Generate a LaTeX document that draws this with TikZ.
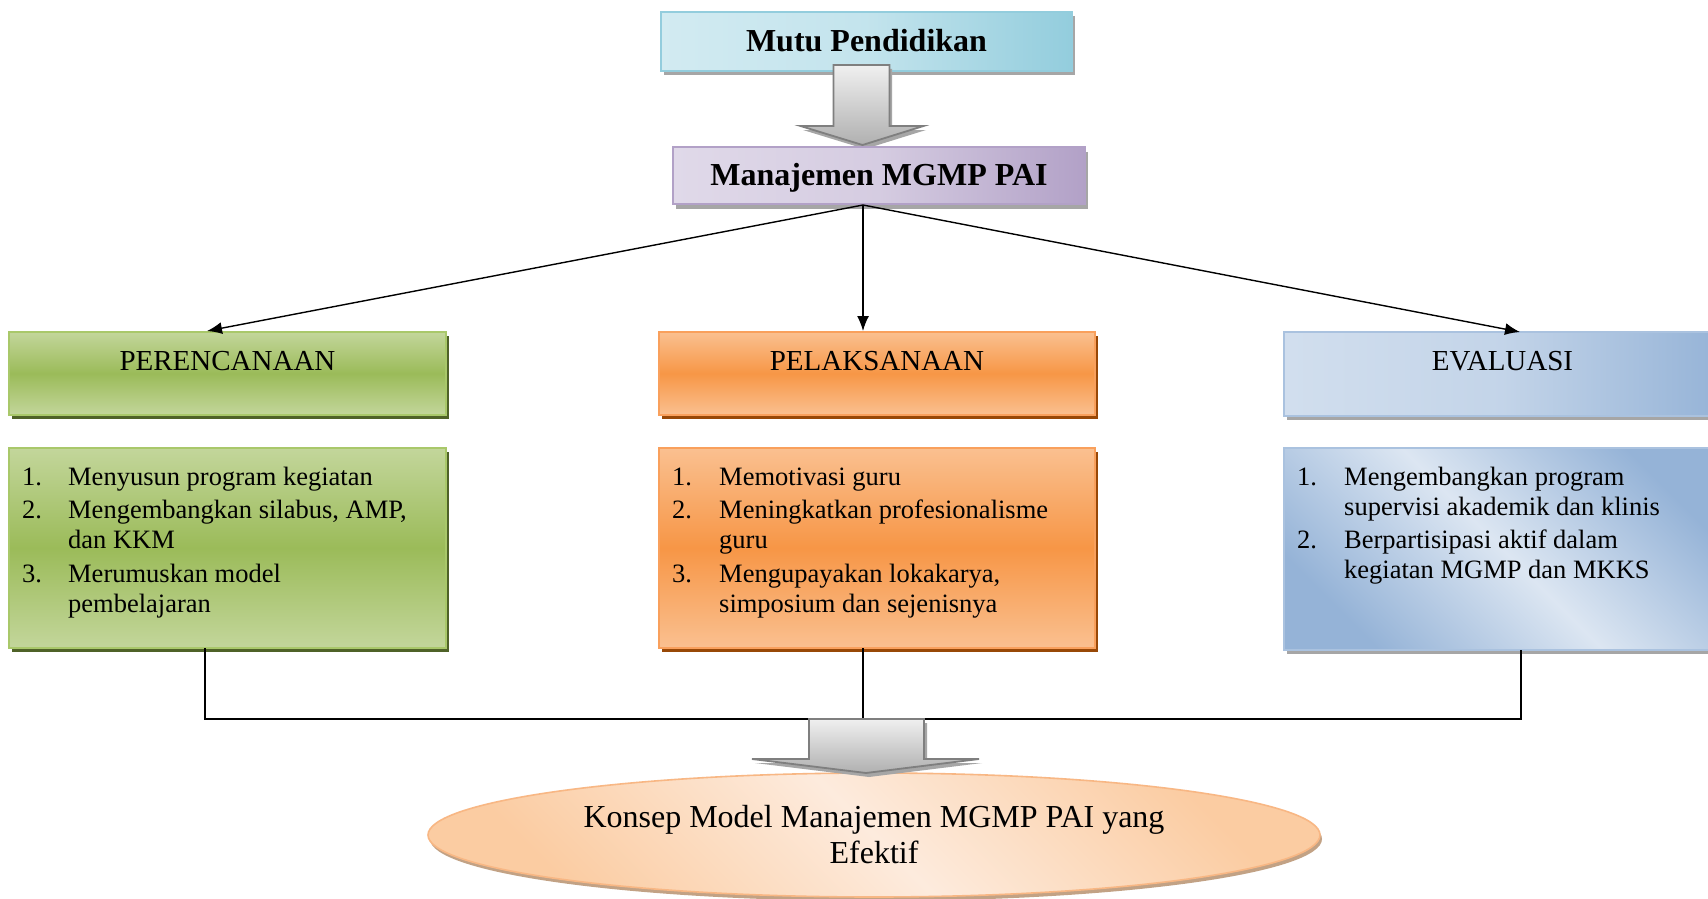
\documentclass[tikz,border=0pt]{standalone}
\usepackage{fontspec}
\setmainfont{Liberation Serif}
\usetikzlibrary{arrows.meta,shadows,calc,shapes.geometric}
\definecolor{cyanD}{HTML}{93CDDD}
\definecolor{cyanL}{HTML}{DDF0F5}
\definecolor{purpD}{HTML}{B2A1C7}
\definecolor{purpL}{HTML}{E8E3EF}
\definecolor{greenD}{HTML}{9BBB59}
\definecolor{greenL}{HTML}{C3D69B}
\definecolor{greenB}{HTML}{A9C86A}
\definecolor{greenS}{HTML}{4F6228}
\definecolor{orD}{HTML}{F79646}
\definecolor{orL}{HTML}{FAC090}
\definecolor{orB}{HTML}{F9A05C}
\definecolor{orS}{HTML}{984807}
\definecolor{blueD}{HTML}{95B3D7}
\definecolor{blueL}{HTML}{DCE6F2}
\definecolor{peachD}{HTML}{FBCCA2}
\definecolor{peachL}{HTML}{FDEBDD}
\definecolor{peachB}{HTML}{F8B784}
\definecolor{peachS}{HTML}{C2A285}
\definecolor{grayS}{HTML}{A6A6A6}
\definecolor{arrowO}{HTML}{7F7F7F}
\begin{document}
\begin{tikzpicture}[x=1pt,y=-1pt,
  basebox/.style={draw, line width=1.6pt, inner sep=0pt, outer sep=0pt, anchor=north west},
  diagfill/.style n args={2}{top color=#1, bottom color=#1, middle color=#2, shading angle=-45},
  sidefill/.style n args={2}{left color=#2!85!#1, right color=#1, middle color=#2!65!#1},
  cyanbox/.style={basebox, draw=cyanD, sidefill={cyanD}{cyanL},
     drop shadow={shadow xshift=3pt, shadow yshift=-4pt, fill=grayS, opacity=1}},
  purpbox/.style={basebox, draw=purpD, sidefill={purpD}{purpL},
     drop shadow={shadow xshift=3pt, shadow yshift=-5pt, fill=grayS, opacity=1}},
  greenbox/.style={basebox, draw=greenB, top color=greenL, bottom color=greenL, middle color=greenD,
     drop shadow={shadow xshift=3pt, shadow yshift=-4pt, fill=greenS, opacity=1}},
  orbox/.style={basebox, draw=orB, top color=orL, bottom color=orL, middle color=orD,
     drop shadow={shadow xshift=3pt, shadow yshift=-4pt, fill=orS, opacity=1}},
  bluehead/.style={basebox, draw=blueD!80!white, sidefill={blueD}{blueL},
     drop shadow={shadow xshift=3pt, shadow yshift=-4pt, fill=grayS, opacity=1}},
  bluebox/.style={basebox, draw=blueD!80!white, diagfill={blueD}{blueL},
     drop shadow={shadow xshift=3pt, shadow yshift=-4pt, fill=grayS, opacity=1}},
  titletext/.style={anchor=base, inner sep=0pt, font=\fontsize{32}{36}\selectfont\bfseries},
  hdrtext/.style={anchor=base, inner sep=0pt, font=\fontsize{29}{34}\selectfont},
  itemtext/.style={anchor=base west, inner sep=0pt, font=\fontsize{26.5}{30}\selectfont},
  conn/.style={line width=1.4pt, -{Latex[length=15pt,width=12pt]}},
  link/.style={line width=1.4pt},
  blockarrow/.style={draw=arrowO, line width=1.8pt, line join=miter, top color=gray!12, bottom color=gray!62},
  blockshadow/.style={fill=grayS}
]
\clip (0,0) rectangle (1708,899);
\fill[white] (0,0) rectangle (1708,899);

% top boxes
\node[cyanbox, minimum width=411pt, minimum height=59pt] (mutu) at (661,12) {};
\node[titletext] (mutut) at ($(mutu.north)+(0,40)$) {Mutu Pendidikan};

% block arrow 1
\coordinate (a1) at ($(mutu.south)+(-33,-6)$);
\fill[blockshadow] (836,69) -- (892,69) -- (892,130) -- (926,130) -- (865,149) -- (803,130) -- (836,130) -- cycle;
\draw[blockarrow] (a1) -- ++(56,0) -- ++(0,61) -- ++(34,0) -- ++(-61,19) -- ++(-62,-19) -- ++(33,0) -- cycle;

\node[purpbox, minimum width=412pt, minimum height=57pt] (mgmp) at (673,147) {};
\node[titletext] (mgmpt) at ($(mgmp.north)+(0,38)$) {Manajemen MGMP PAI};
\coordinate (src) at (863,205);

% column headers
\node[greenbox, minimum width=437pt, minimum height=83pt] (perh) at (9,332) {};
\node[hdrtext] (perht) at ($(perh.north)+(0,38)$) {PERENCANAAN};
\node[orbox, minimum width=436pt, minimum height=83pt] (pelh) at (659,332) {};
\node[hdrtext] (pelht) at ($(pelh.north)+(0,38)$) {PELAKSANAAN};
\node[bluehead, minimum width=437pt, minimum height=84pt] (evah) at (1284,332) {};
\node[hdrtext] (evaht) at ($(evah.north)+(0,38)$) {EVALUASI};

% item boxes
\node[greenbox, minimum width=437pt, minimum height=200pt] (peri) at (9,448) {};
\node[itemtext] (perit) at ($(peri.north west)+(13,37)$) {\begin{tabular}[t]{@{}p{46pt}@{}l@{}}
1. & Menyusun program kegiatan\\[3.5pt]
2. & Mengembangkan silabus, AMP,\\
   & dan KKM\\[3.5pt]
3. & Merumuskan model\\
   & pembelajaran
\end{tabular}};
\node[orbox, minimum width=436pt, minimum height=200pt] (peli) at (659,448) {};
\node[itemtext] (pelit) at ($(peli.north west)+(13,37)$) {\begin{tabular}[t]{@{}p{47pt}@{}l@{}}
1. & Memotivasi guru\\[3.5pt]
2. & Meningkatkan profesionalisme\\
   & guru\\[3.5pt]
3. & Mengupayakan lokakarya,\\
   & simposium dan sejenisnya
\end{tabular}};
\node[bluebox, minimum width=437pt, minimum height=202pt] (evai) at (1284,448) {};
\node[itemtext] (evait) at ($(evai.north west)+(13,37)$) {\begin{tabular}[t]{@{}p{47pt}@{}l@{}}
1. & Mengembangkan program\\
   & supervisi akademik dan klinis\\[3.5pt]
2. & Berpartisipasi aktif dalam\\
   & kegiatan MGMP dan MKKS
\end{tabular}};

% connectors from Manajemen
\draw[conn] (src) -- ($(perh.north)+(-20.5,-1)$);
\draw[conn] (src) -- ($(pelh.north)+(-14,-1)$);
\draw[conn] (src) -- ($(evah.north)+(17.5,0)$);

% collecting lines
\coordinate (hl) at (205,719);
\coordinate (hm) at (863,719);
\coordinate (hr) at (1521,719);
\draw[link] ($(peri.south)+(-22.5,0)$) -- (hl) -- (hr) -- ($(evai.south)+(18.5,0)$);
\draw[link] ($(peli.south)+(-14,0)$) -- (hm);

% ellipse
\node[ellipse, draw=peachB, line width=1.6pt, minimum width=892pt, minimum height=124pt, inner sep=0pt,
      diagfill={peachD}{peachL},
      drop shadow={shadow xshift=2pt, shadow yshift=-4pt, fill=peachS, opacity=1}] (goal) at (874,835) {};
\node[anchor=base, inner sep=0pt, font=\fontsize{32}{36}\selectfont] (goalt) at ($(goal.center)+(0,-8)$)
  {\begin{tabular}[t]{@{}c@{}}Konsep Model Manajemen MGMP PAI yang\\Efektif\end{tabular}};

% block arrow 2
\coordinate (a2) at (809,719);
\fill[blockshadow] (812,723) -- (927,723) -- (927,763) -- (982,763) -- (869,777) -- (755,763) -- (812,763) -- cycle;
\draw[blockarrow] (a2) -- ++(115,0) -- ++(0,40) -- ++(55,0) -- ++(-113,14) -- ++(-114,-14) -- ++(57,0) -- cycle;
\end{tikzpicture}
\end{document}
